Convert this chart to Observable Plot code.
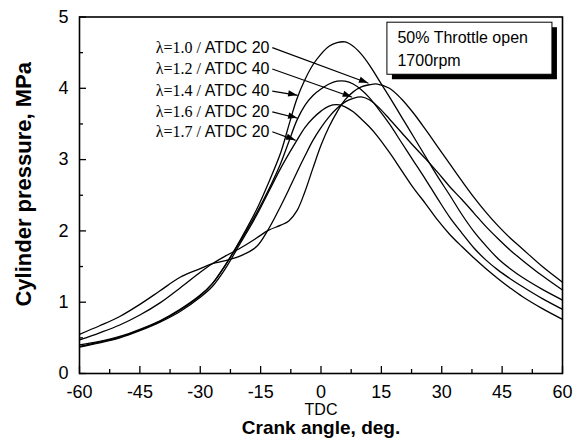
<!DOCTYPE html>
<html><head><meta charset="utf-8">
<script src="https://cdn.jsdelivr.net/npm/d3@7"></script>
<script src="https://cdn.jsdelivr.net/npm/@observablehq/plot@0.6"></script>
<style>
body{margin:0;background:#fff;}
#chart svg{font-family:"Liberation Sans",Arial,sans-serif;background:#fff;}
</style></head><body><div id="chart"></div>
<script>
// ---- data ----
const crankAngle = [-60,-55,-50,-45,-40,-35,-30,-27,-24,-20,-16,-13,-10,-8,-6,-4,-2,0,2,4,6,8,10,12,14,17,20,23,26,29,32,35,38,41,44,47,50,55,60];
const pLambda10 = [0.47,0.57,0.68,0.82,0.99,1.20,1.42,1.54,1.64,1.76,1.90,2.01,2.08,2.14,2.28,2.55,2.88,3.20,3.46,3.67,3.84,3.95,4.02,4.05,4.06,4.00,3.85,3.65,3.42,3.18,2.94,2.70,2.47,2.26,2.07,1.90,1.75,1.50,1.28];
const pLambda12 = [0.55,0.67,0.80,0.97,1.16,1.35,1.47,1.54,1.58,1.65,1.78,2.03,2.35,2.58,2.82,3.05,3.27,3.45,3.60,3.72,3.81,3.86,3.88,3.84,3.75,3.57,3.38,3.19,3.01,2.82,2.62,2.44,2.25,2.06,1.89,1.73,1.59,1.37,1.17];
const pLambda14 = [0.38,0.44,0.51,0.61,0.73,0.89,1.09,1.26,1.50,1.88,2.30,2.68,3.10,3.48,3.85,4.12,4.33,4.48,4.59,4.64,4.65,4.59,4.48,4.33,4.15,3.88,3.60,3.32,3.04,2.76,2.50,2.23,1.99,1.79,1.61,1.47,1.35,1.18,1.03];
const pLambda16 = [0.40,0.45,0.52,0.62,0.74,0.90,1.10,1.26,1.50,1.86,2.25,2.58,2.95,3.25,3.55,3.76,3.90,3.99,4.06,4.10,4.10,4.06,3.98,3.87,3.73,3.50,3.24,2.98,2.72,2.45,2.19,1.97,1.76,1.59,1.45,1.33,1.22,1.05,0.90];
const pLambda17 = [0.37,0.43,0.50,0.60,0.72,0.87,1.07,1.22,1.45,1.83,2.22,2.55,2.88,3.08,3.27,3.45,3.58,3.68,3.75,3.77,3.74,3.67,3.57,3.46,3.33,3.10,2.85,2.60,2.38,2.15,1.95,1.78,1.62,1.47,1.33,1.20,1.08,0.91,0.76];

const lambdaLabels = ["λ=1.0 /", "λ=1.2 /", "λ=1.4 /", "λ=1.6 /", "λ=1.7 /"];
const timingLabels = ["ATDC 20", "ATDC 40", "ATDC 40", "ATDC 20", "ATDC 20"];
const seriesValues = [pLambda10, pLambda12, pLambda14, pLambda16, pLambda17];

// annotation anchors (data units)
const labelX = -12.8;
const labelY = [4.57, 4.27, 3.96, 3.67, 3.39];
const arrowStartX = -12.1;
const arrowTipX = [11.8, 7.75, -5.8, -5.8, -6.3];
const arrowTipY = [4.07, 3.875, 3.9, 3.58, 3.27];

const xTicks = [-60,-45,-30,-15,0,15,30,45,60];
const xMinorTicks = [-52.5,-37.5,-22.5,-7.5,7.5,22.5,37.5,52.5];
const yTicks = [0,1,2,3,4,5];
const yMinorTicks = [0.5,1.5,2.5,3.5,4.5];

const noteLines = ["50% Throttle open", "1700rpm"];
const noteBox = {x1: 16.5, x2: 57.5, y1: 4.19, y2: 4.92};
const noteTextX = 19.0;
const noteTextY = [4.71, 4.39];

// ---- build ----
const table = seriesValues.flatMap((vals, i) =>
  crankAngle.map((a, j) => ({series: lambdaLabels[i] + " " + timingLabels[i], angle: a, p: vals[j]})));

const arrows = lambdaLabels.map((l, i) => ({x1: arrowStartX, y1: labelY[i], x2: arrowTipX[i], y2: arrowTipY[i]}));

const W = 582, H = 446, mL = 79, mR = 20, mT = 16.5, mB = 73;
const plotW = W - mL - mR, plotH = H - mT - mB;

function measure(text, font) {
  const c = document.createElement("canvas").getContext("2d");
  c.font = font;
  return c.measureText(text).width;
}
const timingW = measure("ATDC 20", "16px 'Liberation Sans'") || 66;

const arrowHeads = (index, scales) => {
  const g = d3.create("svg:g");
  for (const a of arrows) {
    const x1 = scales.x(a.x1), y1 = scales.y(a.y1), x2 = scales.x(a.x2), y2 = scales.y(a.y2);
    const len = Math.hypot(x2 - x1, y2 - y1), ux = (x2 - x1) / len, uy = (y2 - y1) / len;
    const L = 9, Wd = 3.2;
    const bx = x2 - ux * L, by = y2 - uy * L;
    g.append("path")
      .attr("d", `M${x2},${y2}L${bx - uy * Wd},${by + ux * Wd}L${bx + uy * Wd},${by - ux * Wd}Z`)
      .attr("fill", "black");
  }
  return g.node();
};

const chart = Plot.plot({
  width: W, height: H,
  marginLeft: mL, marginRight: mR, marginTop: mT, marginBottom: mB,
  x: {domain: [-60, 60], axis: null},
  y: {domain: [0, 5], axis: null},
  marks: [
    Plot.line(table, {x: "angle", y: "p", z: "series", stroke: "black", strokeWidth: 1.3, curve: "catmull-rom"}),
    // note box with shadow
    Plot.rect([noteBox], {x1: "x1", x2: "x2", y1: "y1", y2: "y2", fill: "black", dx: 5, dy: 5}),
    Plot.rect([noteBox], {x1: "x1", x2: "x2", y1: "y1", y2: "y2", fill: "white", stroke: "black", strokeWidth: 1}),
    Plot.text(noteLines, {x: noteTextX, y: (d, i) => noteTextY[i], text: d => d, textAnchor: "start", fontSize: 16, fill: "black"}),
    // labels
    Plot.text(timingLabels, {x: labelX, y: (d, i) => labelY[i], text: d => d, textAnchor: "end", fontSize: 16, fill: "black"}),
    Plot.text(lambdaLabels, {x: labelX, y: (d, i) => labelY[i], text: d => d, textAnchor: "end", fontSize: 16, fill: "black", dx: -(timingW + 4), fontFamily: "'Liberation Serif', 'Times New Roman', serif"}),
    Plot.link(arrows, {x1: "x1", y1: "y1", x2: "x2", y2: "y2", stroke: "black", strokeWidth: 1.2}),
    arrowHeads,
    // ticks (inward)
    Plot.tickX(xTicks, {x: d => d, insetTop: plotH - 7, stroke: "black", strokeWidth: 1.3}),
    Plot.tickX(xMinorTicks, {x: d => d, insetTop: plotH - 4, stroke: "black", strokeWidth: 1.3}),
    Plot.tickY(yTicks, {y: d => d, insetRight: plotW - 7, stroke: "black", strokeWidth: 1.3}),
    Plot.tickY(yMinorTicks, {y: d => d, insetRight: plotW - 4, stroke: "black", strokeWidth: 1.3}),
    Plot.frame({stroke: "black", strokeWidth: 1.6}),
    // tick labels
    Plot.text(xTicks, {x: d => d, frameAnchor: "bottom", dy: 19, text: d => String(d), fontSize: 18, fill: "black", lineAnchor: "middle"}),
    Plot.text(yTicks, {y: d => d, frameAnchor: "left", dx: -11, text: d => String(d), textAnchor: "end", fontSize: 18, fill: "black", lineAnchor: "middle"}),
    Plot.text(["TDC"], {x: 0, frameAnchor: "bottom", dy: 36, text: d => d, fontSize: 16, fill: "black", lineAnchor: "middle"}),
    // axis titles
    Plot.text(["Crank angle, deg."], {frameAnchor: "bottom", dy: 54, text: d => d, textAnchor: "middle", fontSize: 19, fontWeight: "bold", fill: "black", lineAnchor: "middle"}),
    Plot.text(["Cylinder pressure, MPa"], {frameAnchor: "left", dx: -56, dy: -11, rotate: -90, text: d => d, textAnchor: "middle", fontSize: 22, fontWeight: "bold", fill: "black", lineAnchor: "middle"})
  ]
});
document.getElementById("chart").appendChild(chart);
</script>
</body></html>
